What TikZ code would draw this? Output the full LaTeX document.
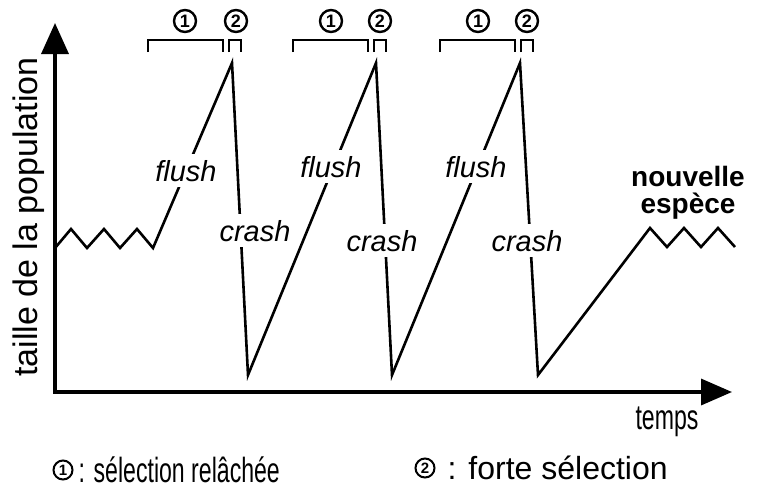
\documentclass[tikz,border=0pt]{standalone}
\usepackage{fontspec}
\setmainfont{Liberation Sans}
\newfontfamily\narrowfont[FakeStretch=0.66]{Liberation Sans}
\usetikzlibrary{arrows.meta,positioning}

\begin{document}
\begin{tikzpicture}[x=1pt, y=-1pt,
  axis/.style = {line width=3.5pt},
  curve/.style = {line width=2.6pt, line join=miter},
  brace/.style = {line width=2.6pt},
  tag/.style = {font=\fontsize{29}{30}\selectfont\itshape, fill=white, inner xsep=2pt, inner ysep=6pt, anchor=base},
  num/.style = {draw, circle, line width=2.4pt, minimum size=22pt, inner sep=0pt, font=\fontsize{18}{18}\selectfont\bfseries},
  key/.style = {num, minimum size=19pt, line width=2pt, font=\fontsize{15}{15}\selectfont\bfseries},
  legend/.style = {font=\fontsize{32}{34}\selectfont, inner sep=0pt}]
\useasboundingbox (0,0) rectangle (766,491);
\coordinate (ytip) at (55,23);
\coordinate (orig) at (55,392);
\coordinate (xtip) at (732,392);
\coordinate (p1) at (232,63);
\coordinate (l1) at (248,375);
\coordinate (p2) at (376,63);
\coordinate (l2) at (392,375);
\coordinate (p3) at (520,63);
\coordinate (l3) at (538,375);
\draw[axis, {Triangle[length=31pt,width=27pt]}-{Triangle[length=31pt,width=26pt]}] (ytip) -- (orig) -- (xtip);
\draw[curve] (55,248) -- (71,229) -- (87,248) -- (104,229) -- (120,248) -- (137,229) -- (153,248)
  -- (p1) -- (l1) -- (p2) -- (l2) -- (p3) -- (l3)
  -- (650,228) -- (667,247) -- (684,228) -- (701,247) -- (718,228) -- (735,247);
\node[tag] (fl1) at (186,181) {flush};
\node[tag] (fl2) at (331,177) {flush};
\node[tag] (fl3) at (476,177) {flush};
\node[tag] (cr1) at (255,241) {crash};
\node[tag] (cr2) at (382,251) {crash};
\node[tag] (cr3) at (527,251) {crash};
\draw[brace] (148,52) |- (223,40) -- (223,52);
\draw[brace] (229,52) |- (241,40) -- (241,52);
\draw[brace] (293,52) |- (368,40) -- (368,52);
\draw[brace] (374,52) |- (386,40) -- (386,52);
\draw[brace] (440,52) |- (515,40) -- (515,52);
\draw[brace] (521,52) |- (533,40) -- (533,52);
\node[num] (a1) at (185,21) {1};
\node[num] (b1) at (236,21) {2};
\node[num] (a2) at (331,21) {1};
\node[num] (b2) at (380,21) {2};
\node[num] (a3) at (478,21) {1};
\node[num] (b3) at (527,21) {2};
\node[rotate=90, anchor=base, font=\fontsize{34}{36}\selectfont] (ylab) at (37,217) {taille de la population};
\node[anchor=base, font=\narrowfont\fontsize{35}{37}\selectfont] (xlab) at (667,429) {temps};
\node[anchor=base, inner sep=0pt, font=\fontsize{28}{30}\selectfont\bfseries] (nouv) at (688,186) {nouvelle};
\node[anchor=base, inner sep=0pt, font=\fontsize{28}{30}\selectfont\bfseries] (esp) at (688,213) {espèce};
\node[key] (k1) at (63,470) {1};
\node[legend, font=\narrowfont\fontsize{35}{37}\selectfont, right=5pt of k1] (t1) {: sélection relâchée};
\node[key] (k2) at (425,468) {2};
\node[legend, right=12pt of k2] (t2) {: forte sélection};
\end{tikzpicture}
\end{document}
